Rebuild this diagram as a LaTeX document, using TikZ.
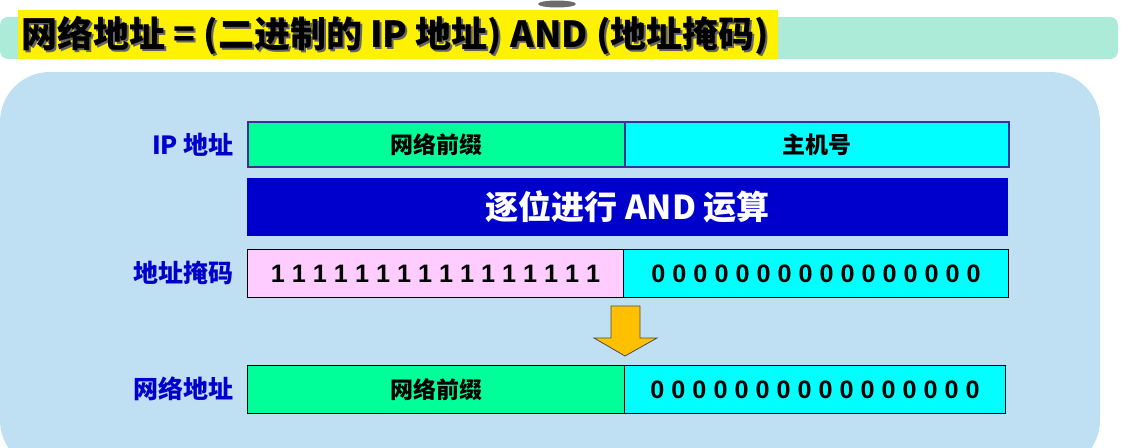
\documentclass[tikz,border=0pt]{standalone}
\usepackage{fontspec}
\newfontfamily\cjk{Noto Sans CJK SC}
\newfontfamily\lat{Liberation Sans}
\definecolor{bgblue}{HTML}{BFDFF2}
\definecolor{teal}{HTML}{ADEBD9}
\definecolor{netgreen}{HTML}{00FF99}
\definecolor{hostcyan}{HTML}{00FFFF}
\definecolor{maskpink}{HTML}{FFCCFF}
\definecolor{bandblue}{HTML}{0000CC}
\definecolor{labelblue}{HTML}{0000CC}
\definecolor{arrowgold}{HTML}{FFC000}
\definecolor{edgeblue}{HTML}{333399}
\tikzset{
  field/.style={draw=black, line width=1.2pt, anchor=north west, inner sep=0pt,
    minimum height=48pt, font=\cjk\bfseries\fontsize{23}{23}\selectfont},
  ipfield/.style={field, draw=edgeblue, line width=1.8pt, minimum height=45pt},
  bits/.style={font=\lat\bfseries\fontsize{25.2}{25}\selectfont},
  rowlabel/.style={anchor=east, inner sep=0pt, text=labelblue, font=\cjk\bfseries\fontsize{25}{25}\selectfont},
  titletext/.style={anchor=west, inner sep=0pt, font=\cjk\bfseries\fontsize{36}{36}\selectfont},
}
\begin{document}
\begin{tikzpicture}[x=1pt,y=-1pt]
\useasboundingbox (0,0) rectangle (1140,447);
% top small shadow ellipse
\fill[gray!85!black] (557,4) ellipse (19 and 3.5);
% title bar
\fill[teal, rounded corners=8pt] (0,17) rectangle (1118,59);
\fill[yellow] (18,10) rectangle (778,59);
\node[titletext, text=black!60] (titleshadow) at (23,38)
  {网络地址 = (二进制的 IP 地址) AND (地址掩码)};
\node[titletext] (title) at (21,36)
  {网络地址 = (二进制的 IP 地址) AND (地址掩码)};
% background panel
\fill[bgblue, rounded corners=50pt] (0,72) rectangle (1100,470);
% row 1
\node[ipfield, fill=netgreen, minimum width=377pt] (ipnet) at (247,121) {网络前缀};
\node[ipfield, fill=hostcyan, minimum width=384pt] (iphost) at (624,121) {主机号};
\node[rowlabel] (lip) at (234,145) {IP 地址};
% band
\node[anchor=north west, fill=bandblue, inner sep=0pt, minimum width=761pt, minimum height=58pt,
  text=white, font=\cjk\bfseries\fontsize{33}{33}\selectfont] (band) at (247,178) {逐位进行 AND 运算};
% row 3 mask
\node[field, fill=maskpink, minimum width=376pt, bits] (maskones) at (247,249) {1 1 1 1 1 1 1 1 1 1 1 1 1 1 1 1};
\node[field, fill=hostcyan, minimum width=385pt, bits] (maskzeros) at (623,249) {0 0 0 0 0 0 0 0 0 0 0 0 0 0 0 0};
\node[rowlabel] (lmask) at (234,273) {地址掩码};
% arrow
\filldraw[fill=arrowgold, draw=black!70, line width=0.8pt]
  (611,306) -- (640,306) -- (640,338) -- (657,338) -- (625,356) -- (594,338) -- (611,338) -- cycle;
% row 4 result
\node[field, fill=netgreen, minimum width=377pt] (resnet) at (247,365) {网络前缀};
\node[field, fill=hostcyan, minimum width=381pt, bits] (reszeros) at (624,365) {0 0 0 0 0 0 0 0 0 0 0 0 0 0 0 0};
\node[rowlabel] (lres) at (234,389) {网络地址};
\end{tikzpicture}
\end{document}
